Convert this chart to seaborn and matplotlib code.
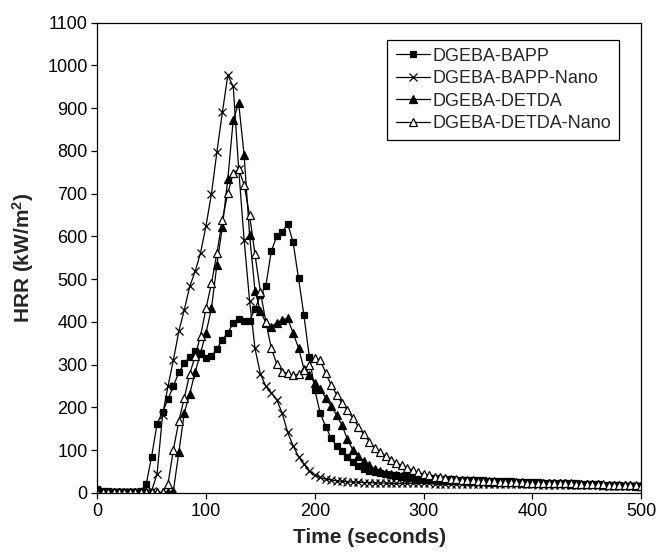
import numpy as np
import pandas as pd
import seaborn as sns
import matplotlib
matplotlib.use("Agg")
import matplotlib.pyplot as plt

# Time axis, one reading every 5 s
time_s = list(range(0, 505, 5))

# HRR readings (kW/m2), rows of 10 = 50 s each
hrr_bapp = [
    8, 5, 4, 3, 3, 3, 3, 3, 5, 20,
    85, 162, 189, 219, 250, 282, 303, 318, 332, 328,
    315, 320, 337, 358, 375, 397, 407, 403, 403, 430,
    462, 485, 566, 600, 610, 630, 587, 502, 415, 317,
    240, 186, 155, 128, 110, 97, 84, 73, 63, 56,
    51, 48, 46, 44, 42, 41, 40, 39, 38, 37,
    36, 35, 34, 33, 33, 32, 31, 31, 30, 30,
    29, 29, 28, 28, 28, 27, 27, 26, 26, 25,
    25, 25, 24, 24, 23, 23, 22, 22, 22, 21,
    21, 20, 20, 19, 19, 18, 18, 17, 17, 16,
    16,
]
hrr_bapp_nano = [
    5, 3, 2, 2, 2, 2, 2, 2, 2, 3,
    5, 44, 181, 249, 311, 378, 428, 483, 518, 562,
    625, 700, 798, 890, 977, 951, 758, 592, 450, 338,
    278, 249, 234, 218, 186, 142, 110, 85, 67, 52,
    42, 36, 32, 30, 28, 27, 26, 25, 25, 24,
    24, 23, 23, 23, 22, 22, 22, 22, 22, 22,
    22, 22, 21, 21, 21, 21, 21, 21, 21, 21,
    21, 20, 20, 20, 20, 20, 20, 20, 20, 20,
    20, 19, 19, 19, 19, 19, 19, 18, 18, 18,
    18, 18, 18, 17, 17, 17, 17, 17, 16, 16,
    16,
]
hrr_detda = [
    3, 2, 2, 1, 1, 1, 1, 1, 1, 1,
    1, 1, 1, 1, 5, 95, 187, 232, 282, 328,
    374, 432, 534, 623, 734, 873, 912, 790, 604, 473,
    425, 398, 389, 398, 405, 408, 374, 339, 290, 275,
    258, 243, 222, 203, 182, 158, 125, 100, 86, 74,
    64, 56, 50, 46, 43, 41, 39, 37, 36, 35,
    34, 33, 32, 31, 31, 30, 29, 29, 28, 28,
    27, 27, 26, 26, 26, 25, 25, 25, 24, 24,
    24, 23, 23, 23, 22, 22, 22, 21, 21, 21,
    20, 20, 20, 19, 19, 19, 18, 18, 18, 17,
    17,
]
hrr_detda_nano = [
    2, 1, 1, 1, 1, 1, 1, 1, 1, 1,
    1, 1, 1, 20, 101, 168, 222, 278, 320, 368,
    432, 490, 561, 639, 701, 748, 757, 721, 650, 558,
    470, 400, 338, 302, 283, 280, 275, 278, 287, 300,
    315, 311, 280, 252, 230, 210, 193, 175, 155, 137,
    120, 105, 95, 87, 78, 70, 64, 58, 53, 48,
    44, 41, 38, 36, 34, 33, 32, 31, 30, 29,
    28, 28, 27, 27, 26, 26, 25, 25, 25, 24,
    24, 24, 23, 23, 23, 22, 22, 22, 21, 21,
    21, 20, 20, 20, 19, 19, 19, 18, 18, 18,
    17,
]

series_names = ["DGEBA-BAPP", "DGEBA-BAPP-Nano", "DGEBA-DETDA", "DGEBA-DETDA-Nano"]
series_values = [hrr_bapp, hrr_bapp_nano, hrr_detda, hrr_detda_nano]
x_ticks = [0, 100, 200, 300, 400, 500]
y_ticks = list(range(0, 1200, 100))

sns.set_style("ticks")
plt.rcParams["font.family"] = ["Liberation Sans", "DejaVu Sans"]
plt.rcParams["mathtext.fontset"] = "custom"
plt.rcParams["mathtext.rm"] = "Liberation Sans"
plt.rcParams["mathtext.bf"] = "Liberation Sans:bold"

fig = plt.figure(figsize=(6.57, 5.55), dpi=100)
ax = fig.add_axes([0.148, 0.112, 0.828, 0.847])

# marker, face colour, size for each series
styles = [("s", "black", 4.8), ("x", "black", 6), ("^", "black", 6), ("^", "white", 6)]

for name, vals, (mk, fc, ms) in zip(series_names, series_values, styles):
    df = pd.DataFrame({"time": time_s, "hrr": vals})
    sns.lineplot(data=df, x="time", y="hrr", ax=ax, color="black", linewidth=0.9,
                 marker=mk, markerfacecolor=fc, markeredgecolor="black",
                 markeredgewidth=0.9, markersize=ms, label=name)

ax.set_xlim(0, 500)
ax.set_ylim(0, 1100)
ax.set_xticks(x_ticks)
ax.set_yticks(y_ticks)
ax.tick_params(axis="both", direction="out", length=4, width=0.9, labelsize=13,
               colors="black", pad=3)
for sp in ax.spines.values():
    sp.set_visible(True)
    sp.set_linewidth(0.9)
    sp.set_color("black")

ax.set_xlabel("Time (seconds)", fontsize=15, fontweight="bold", labelpad=6)
ax.set_ylabel(r"HRR (kW/m$\mathbf{^2}$)", fontsize=15, fontweight="bold", labelpad=8)

leg = ax.legend(loc="upper right", bbox_to_anchor=(0.96, 0.964), fontsize=13,
                frameon=True, fancybox=False, edgecolor="black", framealpha=1,
                handlelength=1.9, handletextpad=0.15, labelspacing=0.3,
                borderpad=0.45, borderaxespad=0)
leg.get_frame().set_linewidth(0.9)

fig.savefig("out.png", dpi=100)
